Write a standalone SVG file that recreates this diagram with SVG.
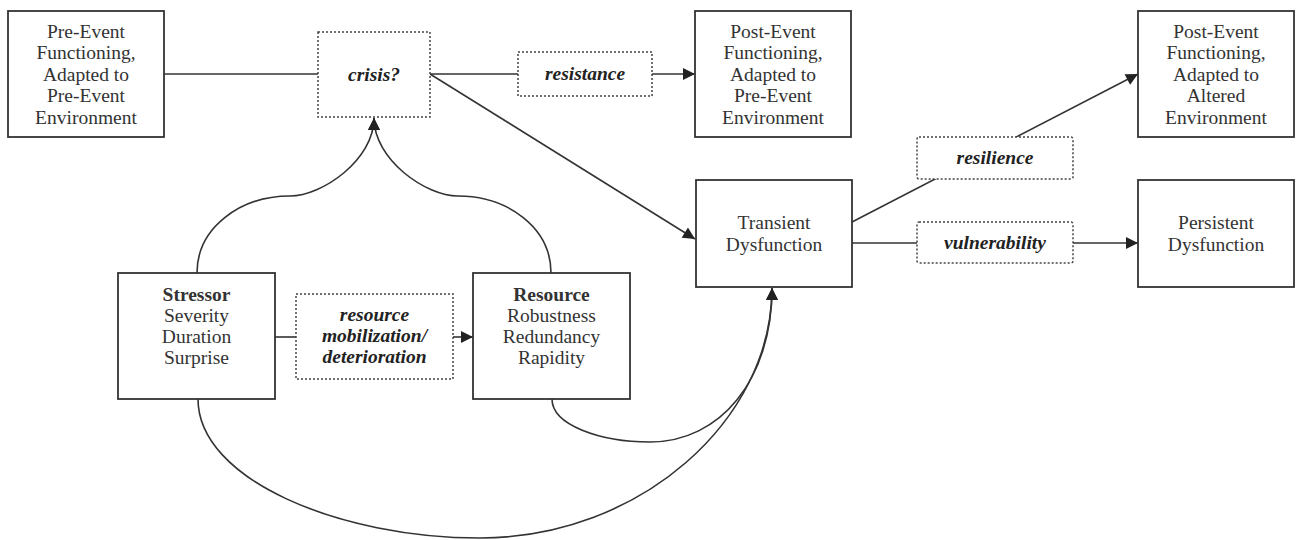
<svg xmlns="http://www.w3.org/2000/svg" width="1298" height="540" viewBox="0 0 1298 540">
<style>
.box{fill:#fff;stroke:#333;stroke-width:1.8}
.dot{fill:#fff;stroke:#444;stroke-width:1.5;stroke-dasharray:2 2}
.t{font-family:"Liberation Serif","Times New Roman",serif;font-size:19.5px;fill:#333;text-anchor:middle}
.b{font-weight:bold}
.bi{font-weight:bold;font-style:italic;fill:#222}
.c{fill:none;stroke:#333;stroke-width:1.6}
</style>
<defs>
<marker id="arr" viewBox="0 0 10 10" refX="10" refY="5" markerUnits="userSpaceOnUse" markerWidth="15" markerHeight="12" orient="auto">
<path d="M0,0 L10,5 L0,10 z" fill="#222"/>
</marker>
</defs>
<rect width="1298" height="540" fill="#fff"/>

<g id="connectors">
<line class="c" x1="164" y1="74" x2="318" y2="74"/>
<line class="c" x1="430" y1="74" x2="518" y2="74"/>
<line class="c" x1="652" y1="74" x2="695" y2="74" marker-end="url(#arr)"/>
<line class="c" x1="430" y1="74" x2="695" y2="239" marker-end="url(#arr)"/>
<line class="c" x1="852" y1="222" x2="1138" y2="74" marker-end="url(#arr)"/>
<line class="c" x1="852" y1="243" x2="917" y2="243"/>
<line class="c" x1="1072" y1="243" x2="1138" y2="243" marker-end="url(#arr)"/>
<line class="c" x1="275" y1="337" x2="296" y2="337"/>
<line class="c" x1="453" y1="337" x2="473" y2="337" marker-end="url(#arr)"/>
<path class="c" d="M197,273 C197,228 240,196 290,196 C322,196 374,160 374,118" marker-end="url(#arr)"/>
<path class="c" d="M551,273 C551,228 508,196 458,196 C426,196 374,160 374,118" marker-end="url(#arr)"/>
<path class="c" d="M552,399 C552,425 600,442 650,442 C720,442 772,380 772,288" marker-end="url(#arr)"/>
<path class="c" d="M198,399 C198,480 340,538 480,538 C640,538 772,420 772,288" marker-end="url(#arr)"/>
</g>

<g id="pre-event">
<rect class="box" x="8" y="11" width="156" height="126"/>
<text class="t" x="86" y="37.5">Pre-Event</text>
<text class="t" x="86" y="59">Functioning,</text>
<text class="t" x="86" y="80.5">Adapted to</text>
<text class="t" x="86" y="102">Pre-Event</text>
<text class="t" x="86" y="123.5">Environment</text>
</g>

<g id="crisis">
<rect class="dot" x="318" y="32" width="112" height="85"/>
<text class="t bi" x="374" y="81">crisis?</text>
</g>

<g id="resistance">
<rect class="dot" x="518" y="52" width="134" height="44"/>
<text class="t bi" x="585" y="80">resistance</text>
</g>

<g id="post-event-pre">
<rect class="box" x="695" y="11" width="156" height="126"/>
<text class="t" x="773" y="37.5">Post-Event</text>
<text class="t" x="773" y="59">Functioning,</text>
<text class="t" x="773" y="80.5">Adapted to</text>
<text class="t" x="773" y="102">Pre-Event</text>
<text class="t" x="773" y="123.5">Environment</text>
</g>

<g id="post-event-altered">
<rect class="box" x="1138" y="11" width="156" height="126"/>
<text class="t" x="1216" y="37.5">Post-Event</text>
<text class="t" x="1216" y="59">Functioning,</text>
<text class="t" x="1216" y="80.5">Adapted to</text>
<text class="t" x="1216" y="102">Altered</text>
<text class="t" x="1216" y="123.5">Environment</text>
</g>

<g id="resilience">
<rect class="dot" x="917" y="137" width="156" height="42" rx="2"/>
<text class="t bi" x="995" y="164">resilience</text>
</g>

<g id="transient">
<rect class="box" x="696" y="180" width="156" height="107"/>
<text class="t" x="774" y="229">Transient</text>
<text class="t" x="774" y="250.5">Dysfunction</text>
</g>

<g id="vulnerability">
<rect class="dot" x="917" y="222" width="156" height="41" rx="2"/>
<text class="t bi" x="995" y="249">vulnerability</text>
</g>

<g id="persistent">
<rect class="box" x="1138" y="180" width="156" height="107"/>
<text class="t" x="1216" y="229">Persistent</text>
<text class="t" x="1216" y="250.5">Dysfunction</text>
</g>

<g id="stressor">
<rect class="box" x="118" y="273" width="157" height="126"/>
<text class="t b" x="196.5" y="301">Stressor</text>
<text class="t" x="196.5" y="322">Severity</text>
<text class="t" x="196.5" y="343">Duration</text>
<text class="t" x="196.5" y="364">Surprise</text>
</g>

<g id="mobilization">
<rect class="dot" x="296" y="294" width="157" height="85"/>
<text class="t bi" x="374.5" y="321">resource</text>
<text class="t bi" x="374.5" y="342">mobilization/</text>
<text class="t bi" x="374.5" y="363">deterioration</text>
</g>

<g id="resource">
<rect class="box" x="473" y="273" width="157" height="126"/>
<text class="t b" x="551.5" y="301">Resource</text>
<text class="t" x="551.5" y="322">Robustness</text>
<text class="t" x="551.5" y="343">Redundancy</text>
<text class="t" x="551.5" y="364">Rapidity</text>
</g>
</svg>
